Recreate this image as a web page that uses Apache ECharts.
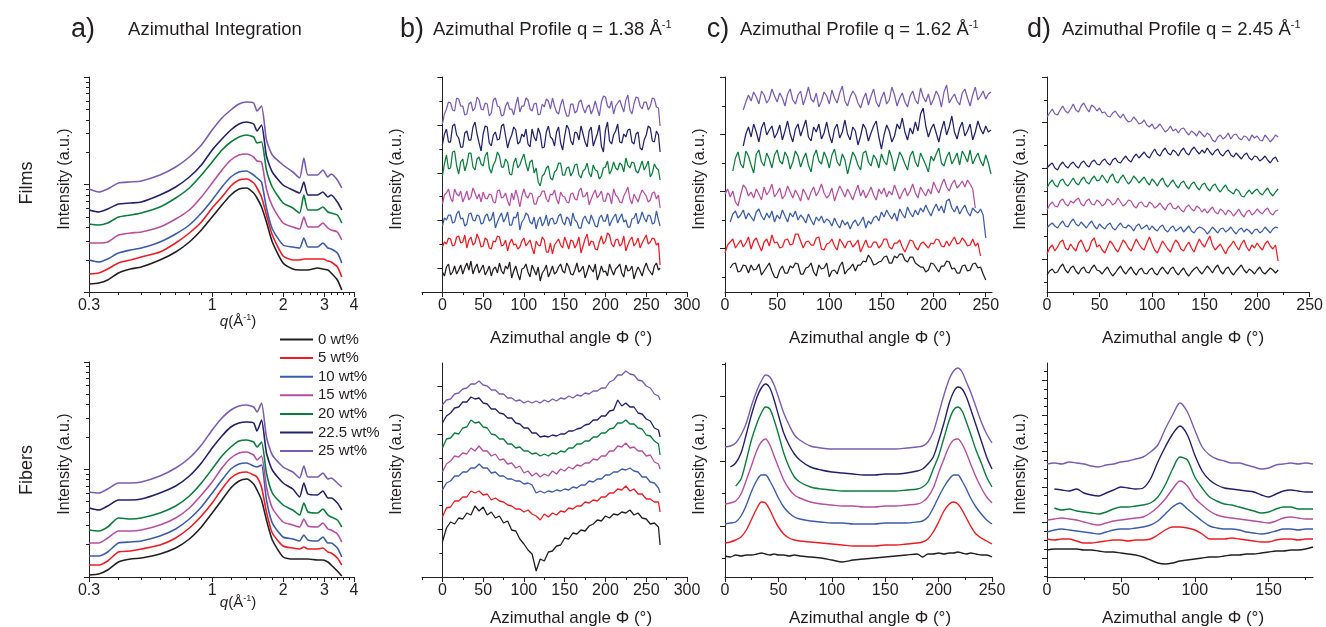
<!DOCTYPE html>
<html>
<head>
<meta charset="utf-8">
<script src="https://cdn.jsdelivr.net/npm/echarts@6/dist/echarts.min.js"></script>
<style>
html, body { margin: 0; padding: 0; background: #fff; }
#chart { width: 1326px; height: 627px; }
</style>
</head>
<body>
<div id="chart"></div>
<script>
const seriesNames = ['0 wt%', '5 wt%', '10 wt%', '15 wt%', '20 wt%', '22.5 wt%', '25 wt%']
const seriesColors = ['#231f20', '#ed1c24', '#3b5ca9', '#b64fa1', '#0a7d3e', '#22216a', '#7a5db1']

// a) azimuthal integration, intensity vs q (1/Å), curves stacked bottom to top
const qA = [0.3, 0.33, 0.36, 0.4, 0.45, 0.5, 0.6, 0.7, 0.8, 0.9, 1.0, 1.1, 1.2, 1.3, 1.4, 1.5, 1.55, 1.62, 1.7, 1.8, 2.0, 2.2, 2.35, 2.45, 2.55, 2.8, 2.95, 3.1, 3.2, 3.4, 3.55]
const aFilm0 = [8, 9, 12, 19, 23, 25, 32, 40, 50, 62, 75, 87, 97, 103, 104, 99, 94, 85, 70, 50, 29, 23, 22, 22, 22, 24, 23, 22, 19, 12, 2]
const aFilm5 = [18, 19, 23, 29, 32, 35, 40, 49, 59, 70, 84, 95, 106, 112, 113, 109, 104, 95, 77, 57, 36, 32, 32, 33, 33, 33, 33, 31, 30, 25, 15]
const aFilm10 = [32, 30, 33, 39, 42, 44, 50, 58, 67, 79, 92, 105, 115, 120, 121, 117, 114, 110, 84, 63, 47, 45, 44, 54, 45, 45, 49, 44, 43, 39, 29]
const aFilm15 = [49, 49, 50, 57, 59, 60, 65, 73, 82, 95, 109, 122, 132, 137, 138, 135, 131, 130, 103, 86, 69, 65, 63, 75, 65, 65, 69, 64, 62, 60, 52]
const aFilm20 = [68, 67, 69, 75, 77, 79, 85, 94, 104, 117, 130, 142, 150, 155, 157, 155, 149, 150, 122, 105, 89, 84, 79, 97, 82, 82, 85, 80, 79, 77, 69]
const aFilm22 = [82, 80, 83, 88, 89, 90, 97, 105, 115, 127, 142, 153, 162, 168, 170, 168, 161, 167, 136, 120, 107, 102, 99, 110, 97, 97, 100, 95, 97, 90, 82]
const aFilm25 = [103, 100, 103, 109, 110, 111, 117, 125, 135, 147, 162, 174, 182, 188, 190, 189, 181, 186, 152, 137, 127, 120, 114, 134, 117, 117, 122, 115, 118, 112, 104]

const aFiber0 = [2, 3, 7, 15, 18, 19, 23, 29, 38, 50, 64, 77, 89, 96, 98, 93, 87, 77, 57, 37, 20, 18, 18, 18, 18, 17, 17, 15, 12, 6, 1]
const aFiber5 = [12, 12, 16, 25, 26, 28, 32, 39, 49, 61, 74, 88, 99, 104, 105, 102, 100, 90, 65, 44, 31, 29, 28, 30, 28, 28, 29, 25, 24, 19, 12]
const aFiber10 = [21, 21, 25, 34, 35, 36, 41, 48, 58, 70, 84, 97, 108, 113, 114, 111, 110, 112, 77, 54, 40, 38, 36, 42, 37, 36, 40, 34, 34, 29, 20]
const aFiber15 = [34, 34, 39, 46, 46, 47, 52, 59, 69, 82, 95, 109, 119, 124, 125, 122, 117, 121, 90, 69, 55, 52, 50, 58, 51, 50, 54, 48, 47, 43, 35]
const aFiber20 = [47, 46, 50, 59, 58, 59, 64, 71, 81, 94, 108, 121, 130, 136, 137, 135, 130, 135, 104, 84, 72, 67, 62, 74, 65, 64, 68, 62, 60, 57, 50]
const aFiber22 = [69, 67, 71, 77, 77, 78, 84, 91, 101, 114, 129, 141, 150, 154, 155, 154, 146, 157, 124, 107, 94, 88, 80, 94, 83, 82, 86, 79, 79, 74, 67]
const aFiber25 = [85, 84, 88, 94, 94, 95, 101, 109, 119, 132, 147, 159, 167, 171, 172, 170, 165, 174, 140, 122, 110, 105, 99, 111, 100, 100, 104, 98, 99, 94, 90]

// b) azimuthal profile at q = 1.38
const angleB = [0, 2.5, 5, 7.5, 10, 12.5, 15, 17.5, 20, 22.5, 25, 27.5, 30, 32.5, 35, 37.5, 40, 42.5, 45, 47.5, 50, 52.5, 55, 57.5, 60, 62.5, 65, 67.5, 70, 72.5, 75, 77.5, 80, 82.5, 85, 87.5, 90, 92.5, 95, 97.5, 100, 102.5, 105, 107.5, 110, 112.5, 115, 117.5, 120, 122.5, 125, 127.5, 130, 132.5, 135, 137.5, 140, 142.5, 145, 147.5, 150, 152.5, 155, 157.5, 160, 162.5, 165, 167.5, 170, 172.5, 175, 177.5, 180, 182.5, 185, 187.5, 190, 192.5, 195, 197.5, 200, 202.5, 205, 207.5, 210, 212.5, 215, 217.5, 220, 222.5, 225, 227.5, 230, 232.5, 235, 237.5, 240, 242.5, 245, 247.5, 250, 252.5, 255, 257.5, 260, 262.5, 265, 267]
const bFilm0 = [20, 16, 25, 28, 17, 20, 26, 18, 22, 27, 18, 24, 29, 22, 31, 18, 24, 28, 19, 23, 27, 17, 21, 26, 16, 23, 25, 19, 29, 21, 18, 26, 23, 30, 14, 21, 26, 18, 12, 23, 24, 28, 20, 15, 27, 22, 17, 25, 11, 19, 22, 27, 15, 20, 26, 18, 20, 25, 28, 21, 19, 29, 25, 18, 17, 22, 29, 20, 22, 26, 14, 20, 27, 23, 20, 28, 12, 18, 26, 20, 21, 16, 28, 22, 17, 23, 25, 28, 19, 15, 27, 21, 22, 26, 13, 20, 25, 21, 16, 24, 29, 23, 20, 17, 26, 29, 22, 24]
const bFilm5 = [45, 50, 48, 54, 53, 46, 47, 55, 56, 49, 50, 57, 44, 52, 55, 47, 49, 58, 53, 45, 46, 54, 52, 44, 43, 51, 50, 56, 55, 46, 47, 52, 41, 49, 53, 47, 48, 43, 45, 51, 54, 46, 49, 52, 44, 38, 51, 47, 46, 55, 52, 40, 40, 49, 38, 47, 50, 53, 47, 44, 55, 49, 43, 52, 51, 44, 48, 55, 39, 46, 53, 58, 46, 51, 50, 43, 42, 50, 56, 48, 51, 59, 57, 48, 45, 52, 53, 46, 48, 56, 41, 47, 52, 55, 46, 49, 54, 44, 49, 53, 57, 48, 50, 54, 53, 47, 49, 27]
const bFilm10 = [66, 74, 72, 77, 77, 69, 70, 78, 81, 73, 74, 66, 68, 78, 79, 72, 71, 77, 76, 68, 69, 76, 78, 71, 73, 80, 64, 70, 75, 79, 70, 74, 80, 67, 67, 75, 74, 80, 62, 70, 73, 79, 77, 70, 68, 75, 63, 72, 75, 66, 70, 77, 66, 73, 74, 68, 69, 76, 78, 70, 67, 75, 73, 66, 79, 72, 70, 64, 64, 73, 76, 71, 68, 77, 72, 66, 65, 74, 77, 71, 71, 78, 66, 71, 75, 78, 69, 74, 78, 70, 72, 65, 65, 73, 74, 79, 68, 73, 80, 74, 70, 77, 76, 68, 69, 81, 72, 66]
const bFilm15 = [88, 97, 99, 103, 94, 90, 103, 98, 96, 101, 90, 95, 101, 92, 95, 104, 99, 93, 98, 90, 100, 94, 93, 98, 97, 90, 89, 101, 102, 94, 95, 99, 91, 86, 99, 92, 102, 95, 85, 96, 103, 96, 94, 99, 98, 88, 88, 95, 96, 101, 101, 93, 90, 98, 97, 102, 93, 88, 100, 96, 95, 90, 89, 98, 99, 93, 92, 101, 104, 95, 96, 100, 87, 93, 98, 102, 94, 97, 101, 91, 91, 99, 97, 88, 103, 97, 95, 90, 89, 96, 100, 105, 93, 88, 98, 94, 90, 97, 102, 99, 96, 90, 92, 99, 100, 93, 97, 84]
const bFilm20 = [116, 128, 137, 123, 124, 140, 141, 126, 118, 130, 133, 121, 128, 139, 139, 125, 122, 133, 135, 128, 126, 136, 140, 124, 119, 127, 131, 140, 136, 125, 125, 133, 130, 118, 117, 129, 134, 124, 127, 133, 138, 128, 121, 130, 132, 119, 124, 110, 106, 116, 118, 124, 126, 114, 112, 120, 122, 129, 129, 117, 117, 124, 125, 116, 120, 127, 128, 117, 114, 121, 123, 129, 119, 115, 127, 122, 121, 113, 116, 124, 125, 131, 118, 122, 130, 124, 122, 129, 127, 120, 134, 127, 124, 130, 129, 121, 119, 125, 131, 122, 126, 131, 115, 119, 128, 124, 122, 112]
const bFilm22 = [147, 158, 163, 150, 150, 166, 168, 157, 154, 145, 145, 159, 161, 152, 152, 165, 170, 158, 149, 141, 158, 166, 165, 149, 146, 157, 160, 152, 153, 166, 168, 156, 144, 152, 157, 165, 162, 148, 150, 158, 155, 163, 148, 145, 163, 155, 151, 164, 158, 144, 145, 160, 166, 155, 153, 146, 160, 165, 149, 142, 156, 167, 163, 151, 147, 160, 159, 152, 166, 158, 150, 145, 161, 165, 146, 152, 158, 167, 146, 140, 162, 170, 151, 148, 157, 161, 168, 150, 149, 158, 155, 162, 163, 150, 148, 158, 160, 144, 142, 152, 157, 166, 164, 151, 150, 161, 157, 140]
const bFilm25 = [168, 178, 183, 190, 189, 182, 181, 194, 193, 186, 186, 177, 178, 188, 190, 181, 184, 195, 192, 183, 182, 189, 188, 176, 179, 192, 194, 186, 185, 176, 177, 186, 190, 183, 183, 177, 187, 195, 180, 186, 186, 194, 192, 183, 181, 188, 189, 177, 178, 188, 185, 193, 191, 183, 194, 186, 180, 178, 187, 193, 183, 176, 176, 188, 188, 179, 181, 190, 192, 184, 179, 185, 187, 178, 183, 191, 183, 176, 190, 196, 195, 186, 184, 191, 178, 186, 189, 192, 186, 180, 192, 197, 182, 178, 188, 195, 194, 186, 183, 190, 190, 182, 186, 194, 193, 185, 184, 166]

const angleBFiber = [0, 5, 10, 15, 20, 25, 30, 35, 40, 45, 50, 55, 60, 65, 70, 75, 80, 85, 90, 95, 100, 105, 110, 115, 120, 125, 130, 135, 140, 145, 150, 155, 160, 165, 170, 175, 180, 185, 190, 195, 200, 205, 210, 215, 220, 225, 230, 235, 240, 245, 250, 255, 260, 265, 267]
const bFiber0 = [35, 49, 55, 53, 59, 58, 64, 62, 71, 66, 70, 62, 65, 59, 61, 54, 56, 47, 46, 38, 33, 27, 23, 6, 18, 16, 25, 26, 31, 32, 39, 38, 44, 43, 47, 46, 51, 53, 57, 56, 61, 59, 63, 62, 65, 64, 67, 62, 64, 59, 58, 53, 54, 50, 32]
const bFiber5 = [60, 69, 70, 76, 76, 80, 80, 86, 84, 86, 82, 83, 77, 79, 76, 75, 72, 71, 68, 68, 65, 67, 63, 61, 57, 63, 60, 64, 62, 66, 65, 69, 68, 71, 71, 75, 74, 77, 76, 80, 80, 84, 84, 88, 87, 91, 86, 88, 83, 83, 78, 78, 75, 75, 65]
const bFiber10 = [87, 94, 96, 101, 101, 105, 105, 109, 109, 113, 109, 109, 104, 105, 101, 101, 98, 98, 96, 96, 93, 94, 92, 84, 86, 84, 86, 85, 87, 86, 88, 87, 90, 89, 92, 92, 96, 95, 98, 98, 102, 102, 105, 105, 108, 107, 109, 106, 105, 100, 100, 95, 94, 89, 84]
const bFiber15 = [105, 113, 116, 121, 120, 124, 123, 129, 126, 131, 126, 126, 121, 123, 117, 118, 113, 114, 109, 111, 104, 106, 101, 104, 100, 103, 101, 106, 103, 108, 106, 110, 108, 112, 111, 114, 114, 118, 117, 121, 121, 126, 126, 131, 130, 134, 129, 130, 126, 126, 121, 122, 115, 113, 108]
const bFiber20 = [129, 138, 139, 144, 143, 149, 150, 157, 154, 155, 150, 149, 143, 142, 138, 138, 133, 133, 129, 130, 126, 126, 123, 124, 121, 123, 121, 124, 123, 126, 125, 129, 129, 133, 133, 136, 136, 140, 140, 144, 144, 148, 149, 154, 154, 157, 153, 153, 149, 148, 142, 141, 136, 133, 122]
const bFiber22 = [154, 161, 164, 169, 170, 175, 175, 180, 178, 179, 174, 173, 168, 168, 164, 163, 159, 159, 154, 153, 149, 149, 144, 144, 140, 141, 140, 142, 141, 143, 143, 146, 146, 148, 149, 152, 153, 157, 157, 161, 161, 166, 167, 177, 171, 174, 170, 170, 164, 163, 158, 156, 149, 147, 140]
const bFiber25 = [172, 177, 178, 183, 184, 188, 189, 193, 193, 196, 192, 191, 187, 187, 183, 183, 179, 179, 176, 177, 174, 176, 174, 176, 174, 177, 175, 178, 176, 179, 178, 181, 179, 182, 181, 184, 183, 186, 186, 189, 189, 195, 197, 202, 202, 206, 203, 202, 197, 196, 191, 189, 183, 181, 177]

// c) azimuthal profile at q = 1.62
const angleC = [0, 2.5, 5, 7.5, 10, 12.5, 15, 17.5, 20, 22.5, 25, 27.5, 30, 32.5, 35, 37.5, 40, 42.5, 45, 47.5, 50, 52.5, 55, 57.5, 60, 62.5, 65, 67.5, 70, 72.5, 75, 77.5, 80, 82.5, 85, 87.5, 90, 92.5, 95, 97.5, 100, 102.5, 105, 107.5, 110, 112.5, 115, 117.5, 120, 122.5, 125, 127.5, 130, 132.5, 135, 137.5, 140, 142.5, 145, 147.5, 150, 152.5, 155, 157.5, 160, 162.5, 165, 167.5, 170, 172.5, 175, 177.5, 180, 182.5, 185, 187.5, 190, 192.5, 195, 197.5, 200, 202.5, 205, 207.5, 210, 212.5, 215, 217.5, 220, 222.5, 225, 227.5, 230, 232.5, 235, 237.5, 240, 242.5, 245, 247.5, 250, 252.5, 255]
const cFilm0 = [null, null, 24, 28, 29, 20, 21, 27, 26, 19, 27, 22, 23, 28, 17, 21, 25, 29, 21, 15, 14, 22, 26, 19, 19, 26, 24, 29, 28, 18, 18, 24, 25, 29, 20, 16, 27, 23, 24, 29, 15, 21, 22, 18, 26, 30, 18, 22, 24, 28, 21, 27, 27, 31, 30, 37, 33, 27, 28, 30, 31, 35, 36, 29, 29, 36, 34, 38, 38, 32, 30, 35, 35, 29, 27, 25, 25, 20, 22, 29, 28, 24, 20, 26, 26, 31, 30, 23, 24, 19, 19, 26, 27, 21, 22, 28, 29, 24, 25, 18, 12, null, null]
const cFilm5 = [39, 47, 50, 53, 44, 48, 52, 45, 49, 55, 43, 51, 54, 47, 41, 50, 53, 46, 57, 49, 50, 44, 45, 52, 53, 47, 48, 58, 58, 51, 44, 50, 51, 47, 47, 54, 55, 43, 42, 48, 49, 53, 46, 42, 53, 49, 44, 50, 51, 45, 48, 52, 40, 46, 52, 45, 45, 50, 50, 44, 47, 53, 53, 45, 43, 49, 49, 52, 45, 40, 46, 52, 51, 45, 42, 48, 50, 47, 44, 49, 48, 53, 52, 46, 45, 51, 46, 51, 55, 48, 49, 54, 51, 46, 47, 53, 46, 49, 36, null, null, null, null]
const cFilm10 = [null, null, 70, 78, 81, 74, 77, 82, 73, 79, 75, 71, 80, 83, 76, 72, 79, 74, 81, 70, 77, 73, 82, 76, 70, 79, 75, 81, 72, 77, 74, 69, 78, 72, 67, 75, 71, 76, 69, 73, 71, 66, 74, 68, 64, 72, 67, 70, 63, 69, 72, 66, 70, 75, 64, 71, 68, 74, 76, 71, 80, 75, 82, 77, 73, 79, 71, 83, 78, 74, 85, 79, 75, 82, 77, 84, 80, 87, 81, 76, 83, 88, 81, 86, 79, 91, 93, 84, 80, 86, 78, 83, 87, 80, 76, 84, 81, 79, 83, 77, 54, null, null]
const cFilm15 = [98, 103, 95, 101, 90, 86, 97, 107, 104, 96, 100, 94, 103, 98, 92, 105, 97, 101, 108, 95, 99, 104, 93, 97, 106, 100, 94, 102, 97, 91, 103, 98, 92, 100, 105, 96, 101, 108, 99, 94, 97, 104, 91, 99, 106, 101, 95, 103, 98, 92, 100, 107, 96, 102, 94, 99, 105, 97, 92, 103, 98, 104, 95, 101, 97, 107, 100, 93, 99, 104, 96, 101, 108, 99, 94, 105, 100, 96, 103, 98, 110, 104, 99, 107, 113, 105, 101, 108, 112, 104, 107, 111, 105, 112, 108, 103, 84, null, null, null, null, null, null]
const cFilm20 = [null, null, null, 121, 134, 140, 128, 124, 141, 136, 127, 119, 138, 142, 130, 126, 139, 133, 124, 137, 142, 131, 128, 140, 135, 123, 130, 141, 136, 125, 133, 139, 127, 120, 136, 142, 131, 128, 140, 134, 124, 137, 143, 130, 126, 138, 132, 118, 129, 140, 135, 127, 122, 139, 141, 130, 126, 137, 133, 124, 138, 131, 127, 142, 134, 121, 130, 140, 135, 128, 122, 136, 141, 130, 125, 139, 133, 127, 120, 136, 131, 138, 144, 129, 126, 135, 140, 128, 133, 139, 127, 141, 136, 130, 142, 128, 134, 139, 131, 126, 137, 129, 118]
const cFilm22 = [null, null, null, null, null, null, null, 146, 158, 165, 155, 168, 160, 150, 164, 170, 157, 162, 166, 154, 159, 167, 152, 161, 171, 158, 150, 163, 168, 156, 164, 172, 155, 151, 165, 160, 168, 153, 159, 170, 157, 149, 163, 168, 154, 160, 172, 158, 152, 165, 161, 147, 156, 168, 163, 151, 159, 166, 171, 155, 143, 157, 167, 161, 150, 156, 168, 163, 174, 160, 152, 164, 158, 170, 161, 178, 184, 166, 155, 163, 168, 159, 150, 162, 171, 157, 165, 176, 160, 153, 164, 170, 156, 161, 168, 152, 160, 171, 163, 158, 166, 160, 162]
const cFilm25 = [null, null, null, null, null, null, null, 182, 190, 197, 191, 200, 195, 188, 201, 197, 189, 193, 203, 196, 190, 199, 194, 186, 198, 203, 192, 188, 197, 201, 187, 195, 205, 193, 190, 199, 185, 191, 200, 196, 188, 202, 194, 189, 199, 206, 191, 186, 195, 201, 197, 189, 184, 193, 199, 187, 196, 203, 190, 185, 194, 200, 188, 192, 205, 197, 186, 194, 199, 190, 185, 196, 201, 192, 188, 204, 195, 190, 198, 187, 193, 201, 196, 185, 200, 207, 189, 194, 198, 191, 187, 199, 203, 194, 186, 197, 205, 192, 196, 201, 193, 198, 200]

const angleCFiber = [0, 5, 10, 15, 20, 25, 30, 34, 38, 42, 46, 50, 55, 60, 65, 70, 80, 90, 100, 110, 120, 130, 140, 150, 160, 170, 180, 185, 190, 195, 200, 205, 210, 214, 218, 222, 226, 230, 235, 240, 245, 250]
const cFiber0 = [21, 20, 22, 21, 22, 22, 23, 24, 23, 22, 23, 22, 22, 21, 22, 21, 20, 19, 17, 15, 17, 18, 19, 20, 21, 22, 23, 20, 23, 23, 24, 23, 24, 24, 25, 24, 23, 24, 23, 22, 22, 20]
const cFiber5 = [34, 35, 37, 40, 47, 58, 69, 75, 74, 67, 58, 50, 43, 39, 37, 36, 35, 34, 33, 32, 31, 31, 31, 32, 32, 33, 34, 35, 38, 45, 55, 66, 73, 75, 73, 67, 59, 51, 43, 39, 36, 33]
const cFiber10 = [53, 54, 55, 61, 72, 86, 97, 102, 102, 96, 88, 79, 70, 64, 60, 58, 56, 55, 54, 54, 53, 53, 53, 54, 54, 54, 55, 56, 60, 69, 80, 90, 98, 102, 102, 96, 88, 79, 70, 63, 57, 53]
const cFiber15 = [73, 74, 76, 83, 97, 112, 127, 135, 138, 132, 121, 110, 97, 88, 82, 79, 75, 73, 72, 71, 71, 70, 70, 71, 71, 72, 73, 75, 80, 89, 104, 118, 131, 137, 138, 133, 124, 113, 100, 89, 80, 74]
const cFiber20 = [null, null, 91, 98, 117, 138, 154, 164, 170, 168, 157, 143, 124, 110, 100, 95, 90, 88, 87, 86, 86, 86, 86, 86, 86, 87, 88, 90, 95, 108, 121, 139, 157, 167, 170, 166, 155, 143, 127, 114, 100, 90]
const cFiber22 = [null, 110, 114, 124, 143, 163, 180, 189, 193, 189, 177, 162, 144, 132, 123, 117, 110, 107, 105, 104, 103, 102, 102, 103, 103, 104, 106, 108, 113, 120, 136, 154, 174, 185, 190, 188, 180, 168, 152, 136, 120, 108]
const cFiber25 = [130, 131, 134, 142, 154, 172, 187, 196, 202, 200, 192, 180, 164, 152, 142, 137, 131, 129, 128, 128, 128, 128, 128, 128, 128, 129, 130, 131, 135, 145, 163, 182, 198, 206, 209, 205, 195, 185, 170, 155, 143, 134]

// d) azimuthal profile at q = 2.45
const angleD = [0, 2.5, 5, 7.5, 10, 12.5, 15, 17.5, 20, 22.5, 25, 27.5, 30, 32.5, 35, 37.5, 40, 42.5, 45, 47.5, 50, 52.5, 55, 57.5, 60, 62.5, 65, 67.5, 70, 72.5, 75, 77.5, 80, 82.5, 85, 87.5, 90, 92.5, 95, 97.5, 100, 102.5, 105, 107.5, 110, 112.5, 115, 117.5, 120, 122.5, 125, 127.5, 130, 132.5, 135, 137.5, 140, 142.5, 145, 147.5, 150, 152.5, 155, 157.5, 160, 162.5, 165, 167.5, 170, 172.5, 175, 177.5, 180, 182.5, 185, 187.5, 190, 192.5, 195, 197.5, 200, 202.5, 205, 207.5, 210, 212.5, 215, 217.5, 220]
const dFilm0 = [17, 21, 23, 19, 20, 25, 28, 22, 19, 24, 26, 21, 18, 23, 25, 20, 19, 24, 27, 22, 21, 18, 22, 25, 20, 16, 19, 23, 26, 21, 18, 22, 25, 20, 17, 22, 24, 19, 18, 22, 24, 19, 17, 22, 25, 21, 18, 23, 25, 20, 17, 21, 24, 19, 16, 20, 23, 25, 21, 18, 22, 26, 23, 19, 24, 27, 21, 18, 23, 25, 20, 17, 21, 24, 27, 22, 19, 23, 21, 18, 22, 25, 20, 18, 21, 24, 22, 19, 22]
const dFilm5 = [38, 44, 47, 41, 45, 50, 52, 44, 42, 48, 44, 41, 49, 52, 46, 40, 43, 51, 54, 45, 47, 42, 39, 45, 51, 48, 43, 40, 46, 52, 49, 44, 41, 47, 53, 48, 44, 42, 49, 55, 48, 42, 39, 45, 51, 47, 43, 40, 47, 52, 49, 43, 41, 46, 50, 44, 40, 47, 53, 48, 45, 51, 56, 47, 42, 45, 48, 43, 38, 44, 47, 51, 46, 42, 48, 52, 45, 41, 47, 44, 49, 45, 42, 48, 51, 46, 43, 47, 31]
const dFilm10 = [64, 67, 69, 66, 64, 68, 71, 66, 65, 70, 73, 68, 66, 70, 67, 64, 68, 71, 66, 63, 68, 65, 63, 67, 69, 64, 62, 66, 69, 65, 64, 67, 65, 61, 66, 68, 63, 65, 67, 62, 66, 63, 61, 65, 67, 62, 60, 64, 66, 61, 63, 65, 60, 63, 66, 61, 59, 63, 65, 64, 62, 58, 61, 65, 62, 59, 63, 64, 60, 62, 65, 61, 58, 62, 64, 60, 63, 61, 58, 62, 63, 59, 61, 65, 62, 59, 63, 65, 64]
const dFilm15 = [82, 87, 90, 86, 85, 91, 93, 88, 86, 91, 89, 92, 94, 88, 86, 91, 93, 88, 87, 92, 90, 86, 88, 93, 91, 87, 89, 94, 90, 86, 88, 92, 91, 86, 84, 89, 90, 86, 85, 90, 88, 84, 86, 89, 85, 82, 87, 89, 84, 83, 86, 82, 80, 85, 87, 83, 81, 86, 84, 80, 83, 79, 82, 85, 80, 78, 83, 81, 77, 82, 80, 76, 79, 83, 78, 75, 80, 82, 77, 79, 83, 80, 78, 82, 84, 79, 77, 81, 82]
const dFilm20 = [104, 109, 112, 107, 105, 111, 113, 108, 106, 110, 114, 109, 107, 112, 115, 110, 108, 113, 116, 111, 112, 117, 113, 109, 115, 118, 111, 109, 114, 117, 112, 108, 111, 116, 113, 109, 112, 115, 110, 107, 113, 110, 106, 111, 114, 108, 105, 109, 112, 107, 104, 109, 111, 106, 103, 108, 110, 105, 102, 107, 109, 104, 101, 106, 108, 103, 100, 104, 107, 102, 100, 98, 103, 101, 96, 95, 99, 102, 98, 101, 103, 99, 97, 101, 104, 99, 96, 100, 103]
const dFilm22 = [124, 127, 129, 124, 122, 127, 130, 126, 124, 128, 130, 126, 124, 129, 131, 127, 125, 130, 132, 128, 127, 131, 133, 129, 127, 132, 134, 130, 129, 133, 136, 132, 130, 135, 138, 134, 137, 140, 136, 134, 139, 143, 138, 136, 141, 144, 139, 137, 142, 140, 136, 141, 144, 139, 137, 142, 145, 141, 138, 142, 139, 144, 140, 137, 141, 143, 138, 136, 140, 142, 137, 135, 139, 136, 133, 137, 139, 134, 132, 136, 135, 131, 133, 136, 132, 129, 133, 135, 130]
const dFilm25 = [175, 179, 183, 178, 177, 182, 186, 181, 179, 183, 188, 182, 180, 186, 189, 184, 180, 187, 185, 181, 184, 179, 180, 176, 175, 179, 181, 177, 174, 178, 173, 170, 171, 175, 172, 168, 169, 172, 167, 165, 168, 163, 165, 168, 164, 160, 162, 166, 161, 163, 159, 163, 164, 160, 157, 161, 159, 156, 161, 158, 155, 159, 157, 152, 150, 155, 157, 153, 155, 159, 153, 157, 158, 154, 152, 156, 155, 151, 157, 154, 156, 152, 151, 157, 154, 150, 153, 157, 155]

const angleDFiber = [0, 5, 10, 15, 20, 25, 30, 35, 40, 45, 50, 55, 60, 65, 70, 75, 80, 85, 90, 95, 100, 105, 110, 115, 120, 125, 130, 135, 140, 145, 150, 155, 160, 165, 170, 175, 180]
const dFiber0 = [27, 28, 28, 28, 28, 27, 27, 26, 25, 25, 24, 23, 22, 20, 17, 14, 13, 14, 16, 17, 18, 19, 20, 20, 21, 22, 22, 23, 23, 24, 25, 26, 26, 27, 27, 28, 30]
const dFiber5 = [38, 37, 38, 38, 36, 34, 34, 35, 36, 37, 37, 36, 37, 37, 38, 42, 47, 50, 50, 49, 47, 43, 38, 38, 38, 39, 38, 37, 36, 35, 35, 37, 38, 38, 37, 38, 38]
const dFiber10 = [45, 47, 48, 47, 46, 45, 44, 43, 45, 47, 48, 48, 49, 50, 52, 56, 63, 70, 74, 68, 62, 56, 51, 49, 48, 48, 47, 45, 44, 43, 44, 46, 48, 48, 47, 48, 48]
const dFiber15 = [57, 58, 59, 58, 57, 55, 53, 52, 54, 56, 57, 58, 59, 60, 64, 70, 78, 88, 96, 91, 79, 72, 66, 62, 60, 59, 58, 57, 56, 55, 54, 56, 59, 60, 59, 58, 58]
const dFiber20 = [null, 69, 67, 68, 66, 65, 64, 63, 65, 68, 70, 70, 71, 72, 74, 80, 92, 108, 120, 117, 100, 89, 80, 76, 73, 72, 70, 68, 66, 64, 65, 68, 70, 70, 68, 68, 68]
const dFiber22 = [null, 88, 87, 86, 88, 84, 82, 81, 84, 87, 90, 89, 88, 89, 98, 115, 130, 143, 151, 142, 122, 106, 97, 92, 89, 88, 87, 86, 85, 82, 80, 83, 86, 87, 86, 85, 85]
const dFiber25 = [113, 114, 113, 115, 114, 113, 111, 110, 112, 113, 115, 116, 118, 120, 125, 132, 148, 162, 174, 165, 147, 130, 122, 118, 116, 114, 114, 112, 110, 108, 109, 112, 113, 114, 113, 114, 113]

// tick labels
const qTicks = [0.3, 1, 2, 3, 4]
const qMinorTicks = [0.4, 0.5, 0.6, 0.7, 0.8, 0.9, 1.2, 1.4, 1.6, 1.8, 2.2, 2.4, 2.6, 2.8, 3.2, 3.4, 3.6, 3.8]
const angleTicksB = [0, 50, 100, 150, 200, 250, 300]
const angleMinorB = [-25, 25, 75, 125, 175, 225, 275]
const angleTicksCD = [0, 50, 100, 150, 200, 250]
const angleMinorCD = [25, 75, 125, 175, 225]
const angleTicksDFiber = [0, 50, 100, 150]
const angleMinorDFiber = [25, 75, 125, 175]

const ink = '#231f20'
const fontFamily = "'Liberation Sans', Arial, Helvetica, sans-serif"

// y tick positions (intensity axes carry no labels, only ticks)
function ladder(start, step, hi) {
  const out = []
  for (let v = start; v <= hi + 0.5; v += step) {
    if (v >= -0.5) out.push(Math.min(hi, Math.max(0, v)))
  }
  return out
}

function logTicks(decadeAt, decade, hi) {
  const majors = []
  const minors = []
  for (let d = -1; d <= 1; d++) {
    const base = decadeAt + d * decade
    if (base >= -0.5 && base <= hi + 0.5) majors.push(Math.min(hi, Math.max(0, base)))
    for (let k = 2; k <= 9; k++) {
      const v = base + decade * Math.log10(k)
      if (v >= 0 && v <= hi) minors.push(v)
    }
  }
  return { majors, minors }
}

function alternating(start, step, hi, majorFirst) {
  const all = ladder(start, step, hi)
  return {
    majors: all.filter((_, i) => (i % 2 === 0) === majorFirst),
    minors: all.filter((_, i) => (i % 2 === 0) !== majorFirst),
  }
}

function everyFourth(start, step, hi) {
  const majors = []
  const minors = []
  for (let k = -2; start + k * step <= hi + 0.5; k++) {
    const v = start + k * step
    if (v < -0.5) continue
    if (k % 4 === 0) majors.push(v)
    else minors.push(Math.max(0, v))
  }
  return { majors, minors }
}

const filmLines = {
  a: [aFilm0, aFilm5, aFilm10, aFilm15, aFilm20, aFilm22, aFilm25],
  b: [bFilm0, bFilm5, bFilm10, bFilm15, bFilm20, bFilm22, bFilm25],
  c: [cFilm0, cFilm5, cFilm10, cFilm15, cFilm20, cFilm22, cFilm25],
  d: [dFilm0, dFilm5, dFilm10, dFilm15, dFilm20, dFilm22, dFilm25],
}
const fiberLines = {
  a: [aFiber0, aFiber5, aFiber10, aFiber15, aFiber20, aFiber22, aFiber25],
  b: [bFiber0, bFiber5, bFiber10, bFiber15, bFiber20, bFiber22, bFiber25],
  c: [cFiber0, cFiber5, cFiber10, cFiber15, cFiber20, cFiber22, cFiber25],
  d: [dFiber0, dFiber5, dFiber10, dFiber15, dFiber20, dFiber22, dFiber25],
}

const panels = [
  { left: 89, top: 77, width: 265, height: 215, xType: 'log', xMin: 0.3, xMax: 4, xs: qA, lines: filmLines.a,
    xMajor: qTicks, xMinor: qMinorTicks, y: logTicks(107.3, 107.7, 215), smooth: 0.2, lineWidth: 1.6 },
  { left: 89, top: 362, width: 265, height: 215, xType: 'log', xMin: 0.3, xMax: 4, xs: qA, lines: fiberLines.a,
    xMajor: qTicks, xMinor: qMinorTicks, y: logTicks(107.7, 107.7, 215), smooth: 0.2, lineWidth: 1.6 },
  { left: 422, top: 77, width: 265, height: 215, xType: 'value', xMin: -25, xMax: 300, xs: angleB, lines: filmLines.b,
    xMajor: angleTicksB, xMinor: angleMinorB, y: alternating(0, 23.85, 215, false), smooth: false, lineWidth: 1.25 },
  { left: 422, top: 363, width: 265, height: 214, xType: 'value', xMin: -25, xMax: 300, xs: angleBFiber, lines: fiberLines.b,
    xMajor: angleTicksB, xMinor: angleMinorB, y: alternating(0, 23.85, 214, true), smooth: false, lineWidth: 1.3 },
  { left: 725, top: 77, width: 267, height: 215, xType: 'value', xMin: 0, xMax: 256, xs: angleC, lines: filmLines.c,
    xMajor: angleTicksCD, xMinor: angleMinorCD, y: alternating(15, 28.5, 215, false), smooth: false, lineWidth: 1.25 },
  { left: 725, top: 363, width: 267, height: 214, xType: 'value', xMin: 0, xMax: 250, xs: angleCFiber, lines: fiberLines.c,
    xMajor: angleTicksCD, xMinor: angleMinorCD, y: alternating(18.7, 32.4, 214, false), smooth: 0.3, lineWidth: 1.4 },
  { left: 1047, top: 77, width: 266, height: 215, xType: 'value', xMin: 0, xMax: 250, xs: angleD, lines: filmLines.d,
    xMajor: angleTicksCD, xMinor: angleMinorCD, y: alternating(9.7, 22.8, 215, false), smooth: false, lineWidth: 1.25 },
  { left: 1047, top: 363, width: 266, height: 214, xType: 'value', xMin: 0, xMax: 180, xs: angleDFiber, lines: fiberLines.d,
    xMajor: angleTicksDFiber, xMinor: angleMinorDFiber, y: everyFourth(19, 8.9, 214), smooth: 0.3, lineWidth: 1.4 },
]

const grid = []
const xAxis = []
const yAxis = []
const series = []

panels.forEach((p, i) => {
  grid.push({ left: p.left, top: p.top, width: p.width, height: p.height })

  const xBase = { gridIndex: i, type: p.xType, min: p.xMin, max: p.xMax, position: 'bottom', splitLine: { show: false } }
  if (p.xType === 'log') xBase.logBase = 10
  xAxis.push({
    ...xBase,
    axisLine: { lineStyle: { color: ink, width: 1 } },
    axisTick: { customValues: p.xMajor, length: 5, lineStyle: { color: ink } },
    axisLabel: { customValues: p.xMajor, color: ink, fontSize: 16, fontFamily, margin: 6 },
  })
  xAxis.push({
    ...xBase,
    axisLine: { show: false },
    axisTick: { customValues: p.xMinor, length: 3, lineStyle: { color: ink } },
    axisLabel: { show: false },
  })

  const yBase = { gridIndex: i, type: 'value', min: 0, max: p.height, position: 'left', splitLine: { show: false }, axisLabel: { show: false } }
  yAxis.push({
    ...yBase,
    axisLine: { show: true, lineStyle: { color: ink, width: 1 } },
    axisTick: { show: true, customValues: p.y.majors, length: 5, lineStyle: { color: ink } },
  })
  yAxis.push({
    ...yBase,
    axisLine: { show: false },
    axisTick: { show: true, customValues: p.y.minors, length: 3, lineStyle: { color: ink } },
  })

  p.lines.forEach((ys, k) => {
    series.push({
      name: seriesNames[k],
      type: 'line',
      xAxisIndex: 2 * i,
      yAxisIndex: 2 * i,
      data: p.xs.map((x, j) => [x, ys[j]]),
      symbol: 'none',
      showSymbol: false,
      smooth: p.smooth,
      connectNulls: false,
      silent: true,
      lineStyle: { color: seriesColors[k], width: p.lineWidth },
      itemStyle: { color: seriesColors[k] },
    })
  })
})

function label(text, x, y, size, extra = {}) {
  return {
    type: 'text',
    x,
    y,
    rotation: extra.rotate ? Math.PI / 2 : 0,
    silent: true,
    style: {
      text,
      fill: ink,
      fontSize: size,
      fontFamily,
      align: extra.align || 'center',
      verticalAlign: 'middle',
      textAlign: extra.align || 'center',
      textVerticalAlign: 'middle',
      rich: extra.rich,
    },
  }
}

const supRich = {
  m: { fontSize: 18.5, fontFamily, fill: ink, lineHeight: 22 },
  s: { fontSize: 11, fontFamily, fill: ink, lineHeight: 22, verticalAlign: 'top' },
}
const qRich = {
  i: { fontSize: 15, fontFamily, fill: ink, fontStyle: 'italic', lineHeight: 18 },
  m: { fontSize: 15, fontFamily, fill: ink, lineHeight: 18 },
  s: { fontSize: 9, fontFamily, fill: ink, lineHeight: 18, verticalAlign: 'top' },
}

const graphic = [
  label('a)', 83, 30, 27),
  label('Azimuthal Integration', 215, 30, 18.5),
  label('b)', 412, 30, 27),
  label('{m|Azimuthal Profile q = 1.38 Å}{s|-1}', 433, 30, 18.5, { align: 'left', rich: supRich }),
  label('c)', 718, 30, 27),
  label('{m|Azimuthal Profile q = 1.62 Å}{s|-1}', 740, 30, 18.5, { align: 'left', rich: supRich }),
  label('d)', 1039, 30, 27),
  label('{m|Azimuthal Profile q = 2.45 Å}{s|-1}', 1062, 30, 18.5, { align: 'left', rich: supRich }),
  label('Films', 27, 183, 18, { rotate: true }),
  label('Fibers', 27, 470, 18, { rotate: true }),
  label('{i|q}{m|(Å}{s|-1}{m|)}', 238, 322, 15, { rich: qRich }),
  label('{i|q}{m|(Å}{s|-1}{m|)}', 238, 603, 15, { rich: qRich }),
]
;[65, 397, 700, 1021].forEach((x) => {
  graphic.push(label('Intensity (a.u.)', x, 179, 16, { rotate: true }))
  graphic.push(label('Intensity (a.u.)', x, 464, 16, { rotate: true }))
})
;[571, 870, 1183].forEach((x) => {
  graphic.push(label('Azimuthal angle Φ (°)', x, 338, 17))
  graphic.push(label('Azimuthal angle Φ (°)', x, 618, 17))
})

const chart = echarts.init(document.getElementById('chart'), null, { renderer: 'canvas' })
chart.setOption({
  animation: false,
  backgroundColor: '#ffffff',
  textStyle: { fontFamily },
  grid,
  xAxis,
  yAxis,
  legend: {
    data: seriesNames,
    orient: 'vertical',
    left: 280,
    top: 332,
    padding: 0,
    icon: 'rect',
    itemWidth: 33,
    itemHeight: 2,
    itemGap: 3.6,
    selectedMode: false,
    textStyle: { color: ink, fontSize: 15, fontFamily, lineHeight: 15 },
  },
  graphic,
  series,
})
</script>
</body>
</html>
